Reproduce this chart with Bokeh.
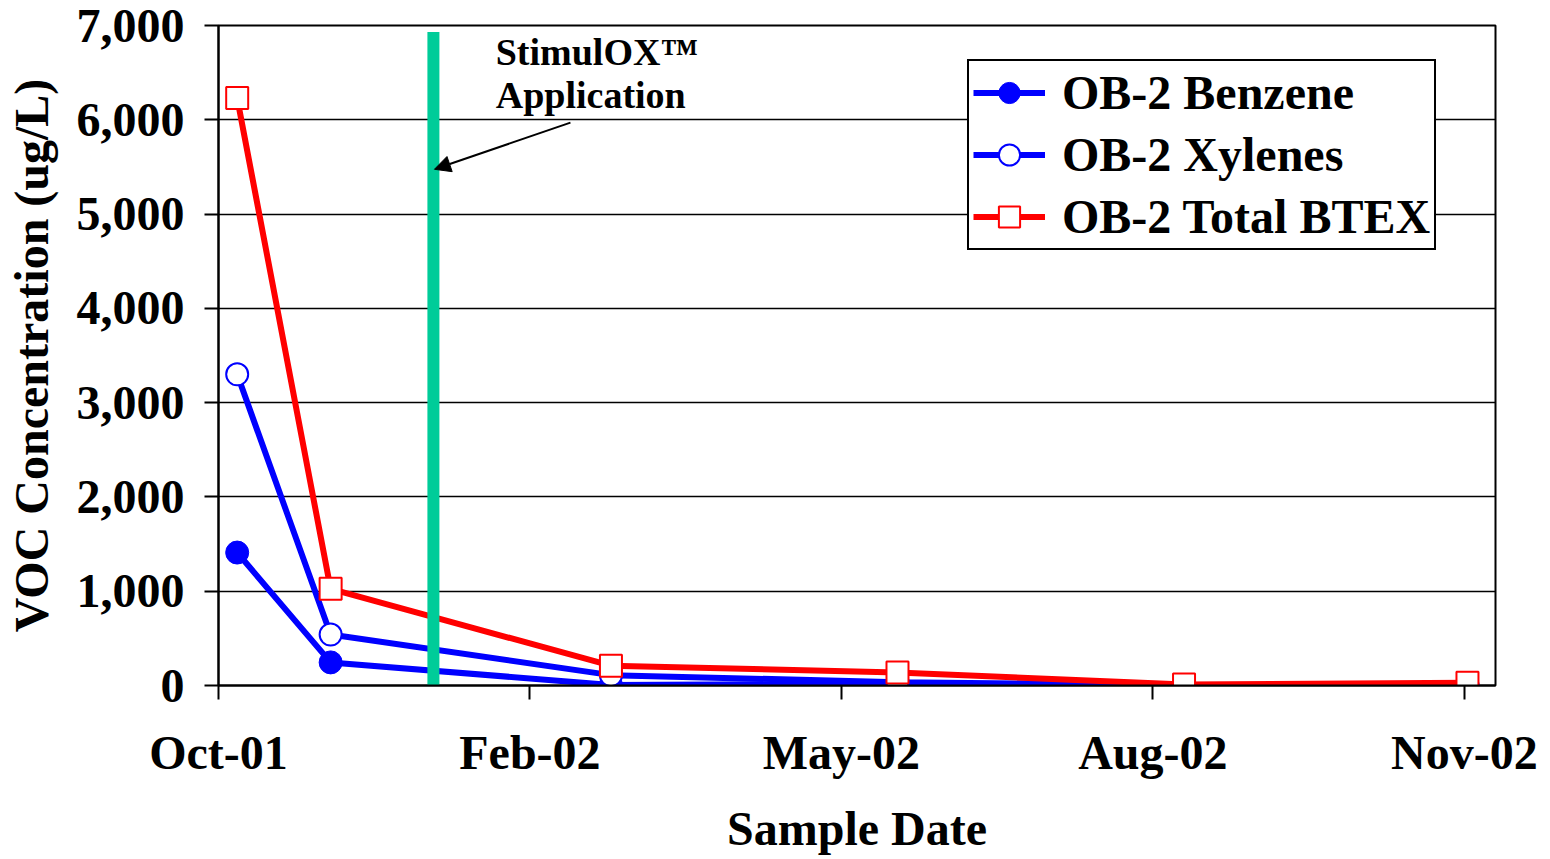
import pandas as pd
from bokeh.plotting import figure
from bokeh.models import (Range1d, FixedTicker, DatetimeTickFormatter, Legend, LegendItem,
                          Label, Arrow, NormalHead, NumeralTickFormatter, ColumnDataSource)
from bokeh.embed import file_html
from bokeh.resources import INLINE

# ---- data ----
sample_dates = ["2001-11-01", "2001-12-01", "2002-03-01", "2002-06-01", "2002-09-01", "2002-12-01"]
benzene = [1410, 245, 5, 20, 2, 2]
xylenes = [3300, 540, 110, 35, 5, 5]
total_btex = [6230, 1025, 210, 138, 10, 30]

series_names = ["OB-2 Benzene", "OB-2 Xylenes", "OB-2 Total BTEX"]
application_date = "2002-01-03"
application_top = 6930
x_ticks = ["2001-10-26", "2002-02-03", "2002-05-14", "2002-08-22", "2002-11-30"]
x_start, x_end = "2001-10-26", "2002-12-10"
y_ticks = [0, 1000, 2000, 3000, 4000, 5000, 6000, 7000]

FONT = "Liberation Serif"

def ms(d):
    return pd.Timestamp(d).value // 10**6

xs = [pd.Timestamp(d) for d in sample_dates]
src = ColumnDataSource(dict(x=xs, benzene=benzene, xylenes=xylenes, btex=total_btex))

p = figure(width=1550, height=859, x_axis_type="datetime", output_backend="svg",
           toolbar_location=None, min_border_left=218, min_border_right=55,
           min_border_top=25, min_border_bottom=174,
           x_range=Range1d(pd.Timestamp(x_start), pd.Timestamp(x_end)),
           y_range=Range1d(0, 7000))

p.outline_line_color = "black"
p.outline_line_width = 2
p.outline_line_alpha = 1
p.xgrid.grid_line_color = None
p.ygrid.grid_line_color = "black"
p.ygrid.grid_line_width = 1.5
p.ygrid.ticker = FixedTicker(ticks=y_ticks)

p.xaxis.ticker = FixedTicker(ticks=[ms(d) for d in x_ticks])
fmt = "%b-%y"
p.xaxis.formatter = DatetimeTickFormatter(milliseconds=fmt, seconds=fmt, minsec=fmt, minutes=fmt,
                                          hourmin=fmt, hours=fmt, days=fmt, months=fmt, years=fmt)
p.yaxis.ticker = FixedTicker(ticks=y_ticks)
p.yaxis.formatter = NumeralTickFormatter(format="0,0")

for ax in (p.xaxis[0], p.yaxis[0]):
    ax.axis_line_width = 2
    ax.major_tick_line_width = 2
    ax.major_tick_out = 14
    ax.major_tick_in = 0
    ax.minor_tick_line_color = None
    ax.major_label_text_font = FONT
    ax.major_label_text_font_style = "bold"
    ax.major_label_text_font_size = "48px"
    ax.major_label_text_color = "black"
    ax.axis_label_text_font = FONT
    ax.axis_label_text_font_style = "bold"
    ax.axis_label_text_font_size = "48px"
    ax.axis_label_text_color = "black"

p.xaxis.axis_label = "Sample Date"
p.yaxis.axis_label = "VOC Concentration (ug/L)"
p.xaxis.major_label_standoff = 26
p.yaxis.major_label_standoff = 20
p.xaxis.axis_label_standoff = 20
p.yaxis.axis_label_standoff = 16

# series
lb = p.line("x", "benzene", source=src, line_color="blue", line_width=6)
sb = p.scatter("x", "benzene", source=src, marker="circle", size=23, fill_color="blue", line_color="blue")
lx = p.line("x", "xylenes", source=src, line_color="blue", line_width=6)
sx = p.scatter("x", "xylenes", source=src, marker="circle", size=22, fill_color="white",
               line_color="blue", line_width=2)
lt = p.line("x", "btex", source=src, line_color="red", line_width=6)
st = p.scatter("x", "btex", source=src, marker="square", size=22, fill_color="white",
               line_color="red", line_width=2)

# application line
p.segment(x0=[pd.Timestamp(application_date)], y0=[0], x1=[pd.Timestamp(application_date)],
          y1=[application_top], line_color="#00CC99", line_width=12)

# annotation
p.add_layout(Label(x=pd.Timestamp("2002-01-23"), y=6715, text="StimulOX™", text_font=FONT,
                   text_font_style="bold", text_font_size="38px", text_baseline="alphabetic",
                   text_color="black"))
p.add_layout(Label(x=pd.Timestamp("2002-01-23"), y=6258, text="Application", text_font=FONT,
                   text_font_style="bold", text_font_size="38px", text_baseline="alphabetic",
                   text_color="black"))
p.add_layout(Arrow(end=NormalHead(size=16, fill_color="black", line_color="black"),
                   x_start=ms("2002-02-16"), y_start=5970, x_end=ms("2002-01-03 08:00"), y_end=5475,
                   line_width=2, line_color="black"))

legend = Legend(items=[LegendItem(label=series_names[0], renderers=[lb, sb]),
                       LegendItem(label=series_names[1], renderers=[lx, sx]),
                       LegendItem(label=series_names[2], renderers=[lt, st])],
                location=(749, 435), glyph_width=72, glyph_height=53, label_height=53,
                label_standoff=17, padding=4, spacing=7, margin=0,
                border_line_color="black", border_line_width=2, border_line_alpha=1,
                label_text_font=FONT, label_text_font_style="bold", label_text_font_size="48px",
                label_text_color="black", background_fill_alpha=1)
p.add_layout(legend)

open("out.html", "w").write(file_html(p, INLINE))
